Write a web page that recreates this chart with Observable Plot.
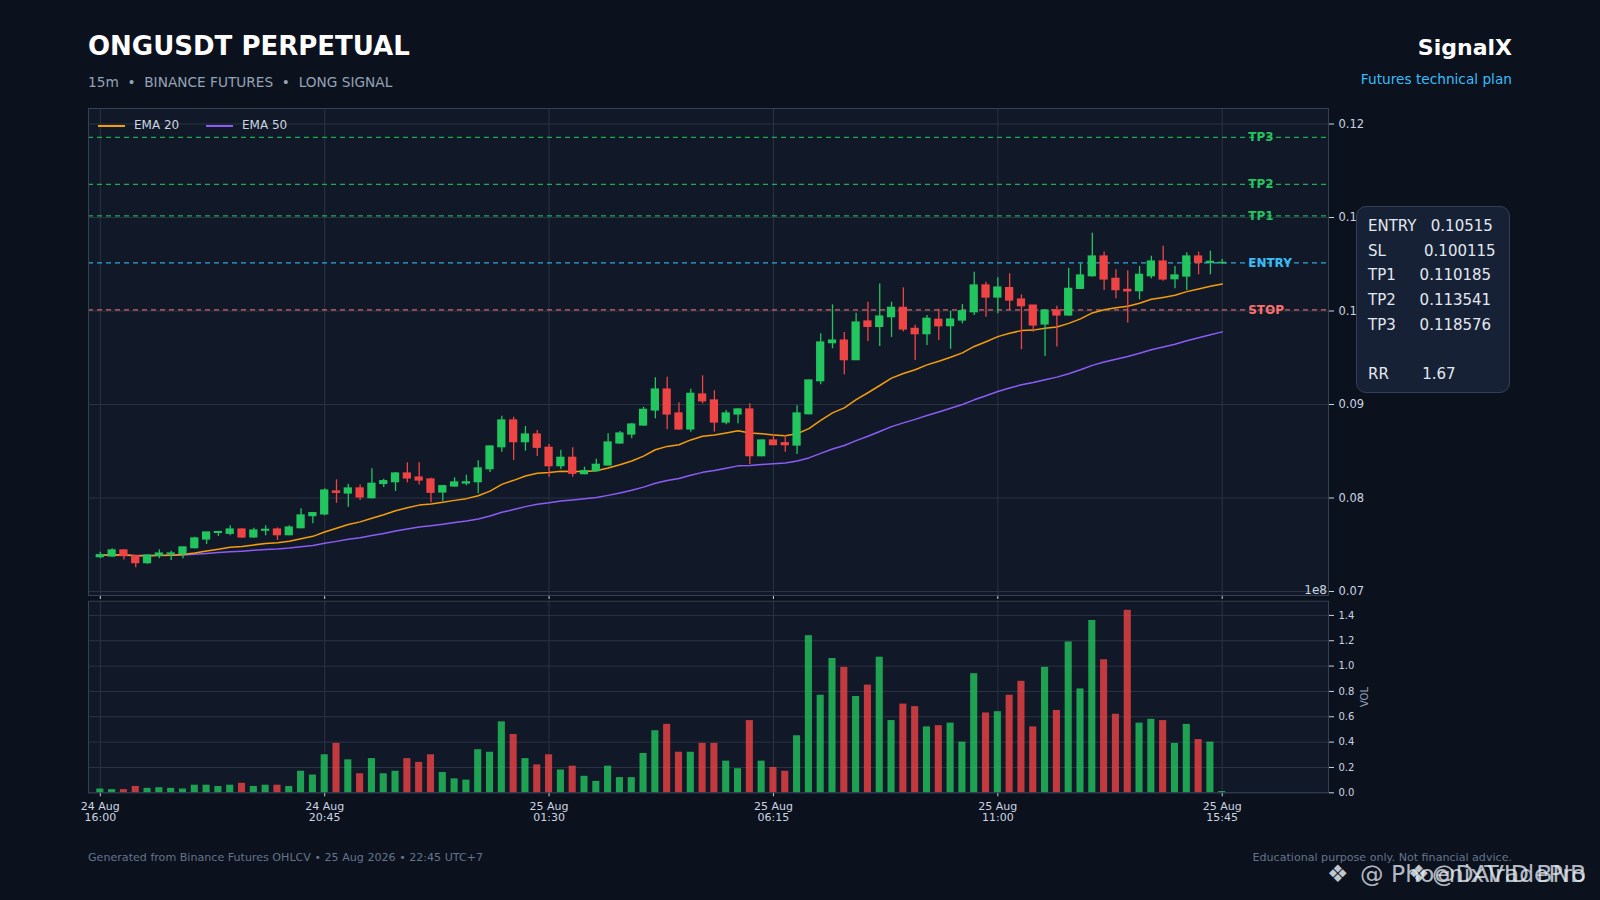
<!DOCTYPE html>
<html>
<head>
<meta charset="utf-8">
<script src="https://cdn.jsdelivr.net/npm/d3@7"></script>
<script src="https://cdn.jsdelivr.net/npm/@observablehq/plot@0.6"></script>
<style>
  html, body { margin: 0; padding: 0; background: #0b111d; overflow: hidden; }
  #root { position: relative; width: 1600px; height: 900px; background: #0b111d; font-family: "DejaVu Sans", sans-serif; overflow: hidden; }
  .abs { position: absolute; white-space: pre; line-height: 1; }
  svg { position: absolute; left: 0; }
</style>
</head>
<body>
<div id="root"></div>
<script>
// ---------------- DATA ----------------
const opens  = [0.07367,0.07374,0.07439,0.07378,0.07303,0.07382,0.07396,0.07399,0.07463,0.07556,
                0.07626,0.07617,0.07663,0.07578,0.07650,0.07663,0.07602,0.07677,0.07806,0.07824,
                0.08070,0.08048,0.08102,0.07998,0.08150,0.08169,0.08262,0.08219,0.08198,0.08059,
                0.08123,0.08155,0.08169,0.08308,0.08543,0.08829,0.08597,0.08679,0.08537,0.08340,
                0.08430,0.08255,0.08287,0.08348,0.08583,0.08679,0.08775,0.08936,0.09160,0.08904,
                0.08733,0.09107,0.09043,0.08807,0.08893,0.08947,0.08447,0.08615,0.08586,0.08561,
                0.08896,0.09249,0.09656,0.09684,0.09474,0.09888,0.09830,0.09934,0.10034,0.09809,
                0.09752,0.09906,0.09838,0.09898,0.09987,0.10273,0.10144,0.10245,0.10123,0.10058,
                0.09856,0.10005,0.09952,0.10237,0.10372,0.10583,0.10344,0.10226,0.10212,0.10372,
                0.10529,0.10340,0.10369,0.10583,0.10515,0.10510];
const highs  = [0.07420,0.07456,0.07445,0.07380,0.07390,0.07446,0.07430,0.07475,0.07580,0.07633,
                0.07640,0.07703,0.07670,0.07677,0.07703,0.07680,0.07703,0.07884,0.07845,0.08098,
                0.08194,0.08148,0.08140,0.08312,0.08200,0.08273,0.08376,0.08376,0.08210,0.08130,
                0.08216,0.08244,0.08398,0.08555,0.08875,0.08864,0.08765,0.08722,0.08572,0.08511,
                0.08537,0.08329,0.08415,0.08687,0.08711,0.08797,0.08971,0.09286,0.09292,0.09018,
                0.09164,0.09307,0.09147,0.08936,0.08954,0.09007,0.08620,0.08679,0.08668,0.08986,
                0.09260,0.09756,0.10066,0.09770,0.09977,0.10094,0.10290,0.10094,0.10248,0.09848,
                0.09953,0.10019,0.09998,0.10069,0.10415,0.10308,0.10355,0.10398,0.10173,0.10060,
                0.10010,0.10051,0.10458,0.10505,0.10832,0.10630,0.10441,0.10430,0.10476,0.10586,
                0.10693,0.10476,0.10622,0.10630,0.10640,0.10551];
const lows   = [0.07350,0.07367,0.07338,0.07253,0.07290,0.07350,0.07332,0.07350,0.07456,0.07503,
                0.07588,0.07595,0.07570,0.07570,0.07595,0.07545,0.07595,0.07670,0.07724,0.07810,
                0.07944,0.07902,0.07973,0.07990,0.08112,0.08070,0.08162,0.08140,0.07949,0.07966,
                0.08116,0.08131,0.08045,0.08273,0.08490,0.08401,0.08501,0.08444,0.08222,0.08305,
                0.08222,0.08248,0.08277,0.08343,0.08576,0.08633,0.08768,0.08847,0.08729,0.08725,
                0.08704,0.09007,0.08704,0.08783,0.08793,0.08358,0.08440,0.08560,0.08490,0.08465,
                0.08890,0.09211,0.09596,0.09318,0.09470,0.09674,0.09621,0.09717,0.09777,0.09471,
                0.09631,0.09684,0.09590,0.09863,0.09952,0.09934,0.09970,0.10005,0.09586,0.09774,
                0.09513,0.09615,0.09945,0.10230,0.10365,0.10220,0.10130,0.09873,0.10119,0.10344,
                0.10319,0.10237,0.10220,0.10387,0.10387,0.10501];
const closes = [0.07388,0.07439,0.07378,0.07303,0.07385,0.07406,0.07406,0.07471,0.07567,0.07631,
                0.07636,0.07663,0.07578,0.07652,0.07660,0.07602,0.07684,0.07813,0.07838,0.08080,
                0.08055,0.08102,0.08006,0.08152,0.08180,0.08262,0.08209,0.08187,0.08056,0.08126,
                0.08166,0.08168,0.08316,0.08551,0.08829,0.08597,0.08679,0.08537,0.08340,0.08430,
                0.08259,0.08287,0.08355,0.08594,0.08690,0.08786,0.08943,0.09160,0.08893,0.08733,
                0.09114,0.09034,0.08807,0.08904,0.08947,0.08447,0.08615,0.08565,0.08565,0.08904,
                0.09257,0.09663,0.09684,0.09474,0.09877,0.09830,0.09941,0.10034,0.09802,0.09752,
                0.09917,0.09837,0.09909,0.09998,0.10273,0.10144,0.10251,0.10112,0.10051,0.09845,
                0.10005,0.09952,0.10237,0.10380,0.10583,0.10337,0.10223,0.10210,0.10387,0.10529,
                0.10337,0.10380,0.10583,0.10515,0.10526,0.10515];
// volume in units of 1e8
const volumes = [0.030,0.025,0.025,0.050,0.035,0.040,0.035,0.030,0.060,0.060,
                 0.050,0.060,0.075,0.050,0.060,0.060,0.050,0.170,0.140,0.300,
                 0.390,0.260,0.150,0.270,0.150,0.170,0.270,0.240,0.300,0.160,
                 0.110,0.100,0.340,0.320,0.560,0.460,0.270,0.220,0.300,0.180,
                 0.210,0.130,0.090,0.210,0.120,0.120,0.310,0.490,0.540,0.320,
                 0.320,0.390,0.390,0.250,0.190,0.570,0.250,0.200,0.170,0.450,
                 1.240,0.770,1.060,0.990,0.760,0.850,1.070,0.570,0.700,0.680,
                 0.520,0.530,0.550,0.400,0.940,0.630,0.640,0.770,0.880,0.520,
                 0.990,0.650,1.190,0.820,1.360,1.050,0.620,1.440,0.550,0.580,
                 0.570,0.390,0.540,0.420,0.400,0.010];
const xTickIndex  = [0, 19, 38, 57, 76, 95];
const xTickLabels = ["24 Aug\n16:00","24 Aug\n20:45","25 Aug\n01:30","25 Aug\n06:15","25 Aug\n11:00","25 Aug\n15:45"];
const priceTicks  = [0.07, 0.08, 0.09, 0.10, 0.11, 0.12];
const volTicks    = [0, 0.2, 0.4, 0.6, 0.8, 1.0, 1.2, 1.4];
const levelNames  = ["TP3", "TP2", "TP1", "ENTRY", "STOP"];
const levelValues = [0.118576, 0.113541, 0.110185, 0.10515, 0.100115];
const levelColors = ["#22c55e", "#22c55e", "#22c55e", "#38bdf8", "#f87171"];
const riskReward  = 1.67;

// ---------------- DERIVED ----------------
const n = closes.length;
const candles = closes.map((c, i) => ({i, open: opens[i], high: highs[i], low: lows[i], close: c, vol: volumes[i], up: c >= opens[i]}));
function ema(values, span) {
  const a = 2 / (span + 1); const out = []; let prev = values[0];
  values.forEach((v, i) => { prev = i === 0 ? v : a * v + (1 - a) * prev; out.push({i, v: prev}); });
  return out;
}
const ema20 = ema(closes, 20), ema50 = ema(closes, 50);
const levels = levelNames.map((name, k) => ({name, value: levelValues[k], color: levelColors[k]}));
const GREEN = "#22c55e", RED = "#ef4444";
const xDomain = [-1, n + 8];
const labelX = n + 1.2;

const root = document.getElementById("root");
const font = "DejaVu Sans";

// ---------------- PRICE PANEL ----------------
const price = Plot.plot({
  width: 1600, height: 600,
  marginLeft: 88, marginRight: 272, marginTop: 108, marginBottom: 5,
  x: {domain: xDomain, axis: null},
  y: {domain: [0.06957, 0.12166], axis: null},
  style: {background: "transparent", fontFamily: font, color: "#cbd5e1", overflow: "visible"},
  marks: [
    Plot.frame({fill: "#111827"}),
    Plot.gridX(xTickIndex, {stroke: "#2a3444", strokeOpacity: 1, strokeWidth: 1}),
    Plot.gridY(priceTicks, {stroke: "#2a3444", strokeOpacity: 1, strokeWidth: 1}),
    Plot.ruleY(levels, {y: "value", stroke: "color", strokeDasharray: "5,4", strokeWidth: 1.3, strokeOpacity: 0.85}),
    Plot.text(levels, {x: labelX, y: "value", text: "name", fill: "color", fontWeight: "bold", fontSize: 12, textAnchor: "start"}),
    Plot.line(ema50, {x: "i", y: "v", stroke: "#8b5cf6", strokeWidth: 1.5}),
    Plot.line(ema20, {x: "i", y: "v", stroke: "#f59e0b", strokeWidth: 1.5}),
    Plot.ruleX(candles, {x: "i", y1: "low", y2: "high", stroke: d => d.up ? GREEN : RED, strokeWidth: 1.3}),
    Plot.rect(candles, {x1: d => d.i - 0.35, x2: d => d.i + 0.35, y1: "open", y2: "close", fill: d => d.up ? GREEN : RED, insetTop: -0.6, insetBottom: -0.6}),
    Plot.axisX(xTickIndex, {tickSize: 4, tickFormat: () => "", stroke: "#cbd5e1", label: null}),
    Plot.axisY(priceTicks, {anchor: "right", tickSize: 5, tickPadding: 5, tickFormat: d3.format(".2f"), fontSize: 11.5, stroke: "#cbd5e1", fill: "#cbd5e1", label: null}),
    Plot.frame({stroke: "#334155", strokeWidth: 1})
  ]
});
price.style.top = "0px";
root.appendChild(price);

// ---------------- VOLUME PANEL ----------------
const vol = Plot.plot({
  width: 1600, height: 280,
  marginLeft: 88, marginRight: 272, marginTop: 20.7, marginBottom: 67.7,
  x: {domain: xDomain, axis: null},
  y: {domain: [0, 1.512], axis: null},
  style: {background: "transparent", fontFamily: font, color: "#cbd5e1", overflow: "visible"},
  marks: [
    Plot.frame({fill: "#111827"}),
    Plot.gridX(xTickIndex, {stroke: "#2a3444", strokeOpacity: 1}),
    Plot.gridY(volTicks, {stroke: "#2a3444", strokeOpacity: 1}),
    Plot.rect(candles, {x1: d => d.i - 0.3, x2: d => d.i + 0.3, y1: 0, y2: "vol", fill: d => d.up ? GREEN : RED, fillOpacity: 0.8}),
    Plot.axisX(xTickIndex, {tickSize: 4, tickPadding: 5, tickFormat: (d, k) => xTickLabels[k], fontSize: 11, stroke: "#cbd5e1", fill: "#cbd5e1", lineHeight: 1, label: null}),
    Plot.axisY(volTicks, {anchor: "right", tickSize: 5, tickPadding: 5, tickFormat: d3.format(".1f"), fontSize: 10, stroke: "#cbd5e1", fill: "#cbd5e1", label: null}),
    Plot.frame({stroke: "#334155", strokeWidth: 1})
  ]
});
vol.style.top = "580px";
root.appendChild(vol);

// ---------------- TEXT / HTML ----------------
function addText(txt, css) {
  const d = document.createElement("div");
  d.className = "abs"; d.textContent = txt;
  Object.assign(d.style, css);
  root.appendChild(d); return d;
}
addText("ONGUSDT PERPETUAL", {left: "88px", top: "33px", fontSize: "26px", fontWeight: "bold", color: "#ffffff"});
addText("15m  \u2022  BINANCE FUTURES  \u2022  LONG SIGNAL", {left: "88px", top: "76px", fontSize: "13.7px", color: "#94a3b8"});
addText("SignalX", {right: "88px", top: "37px", fontSize: "22px", fontWeight: "bold", color: "#ffffff"});
addText("Futures technical plan", {right: "88px", top: "73px", fontSize: "13.7px", color: "#38bdf8"});

// legend
function legendItem(x, color, label) {
  const l = document.createElement("div");
  Object.assign(l.style, {position: "absolute", left: x + "px", top: "125px", width: "27px", height: "1.6px", background: color});
  root.appendChild(l);
  addText(label, {left: (x + 36) + "px", top: "119px", fontSize: "12px", color: "#cbd5e1"});
}
legendItem(98, "#f59e0b", "EMA 20");
legendItem(206, "#8b5cf6", "EMA 50");

// offset text & vol label
addText("1e8", {right: (1600 - 1327) + "px", top: "584px", fontSize: "12px", color: "#cbd5e1"});
addText("VOL", {left: "1355px", top: "692px", fontSize: "10px", color: "#94a3b8", transform: "rotate(-90deg)", transformOrigin: "center"});

// info box
const box = document.createElement("div");
Object.assign(box.style, {position: "absolute", left: "1356px", top: "206px", width: "154px", height: "187px",
  background: "#172135", border: "1px solid #334155", borderRadius: "10px", boxSizing: "border-box"});
root.appendChild(box);
const entry = levelValues[3], sl = levelValues[4];
const boxLines = [
  "ENTRY   " + entry,
  "SL        " + sl,
  "TP1     " + levelValues[2],
  "TP2     " + levelValues[1],
  "TP3     " + levelValues[0],
  "",
  "RR       " + riskReward.toFixed(2)
];
boxLines.forEach((t, k) => {
  addText(t, {left: "1368px", top: (219 + k * 24.7) + "px", fontSize: "15px", color: "#e2e8f0"});
});

// footer
addText("Generated from Binance Futures OHLCV \u2022 25 Aug 2026 \u2022 22:45 UTC+7", {left: "88px", top: "852px", fontSize: "11.1px", color: "#64748b"});
addText("Educational purpose only. Not financial advice.", {right: "88px", top: "852px", fontSize: "11.1px", color: "#64748b"});

// watermark
addText("\u2756", {left: "1327px", top: "862px", fontSize: "24px", color: "rgba(226,232,240,0.85)"});
addText("@ PhoenixTradePro", {left: "1360px", top: "863px", fontSize: "23.5px", color: "rgba(226,232,240,0.8)"});
addText("\u2756", {left: "1408px", top: "862px", fontSize: "24px", color: "rgba(226,232,240,0.85)"});
addText("@DAVID BNB", {left: "1432px", top: "863px", fontSize: "23.5px", color: "rgba(226,232,240,0.8)"});
</script>
</body>
</html>
